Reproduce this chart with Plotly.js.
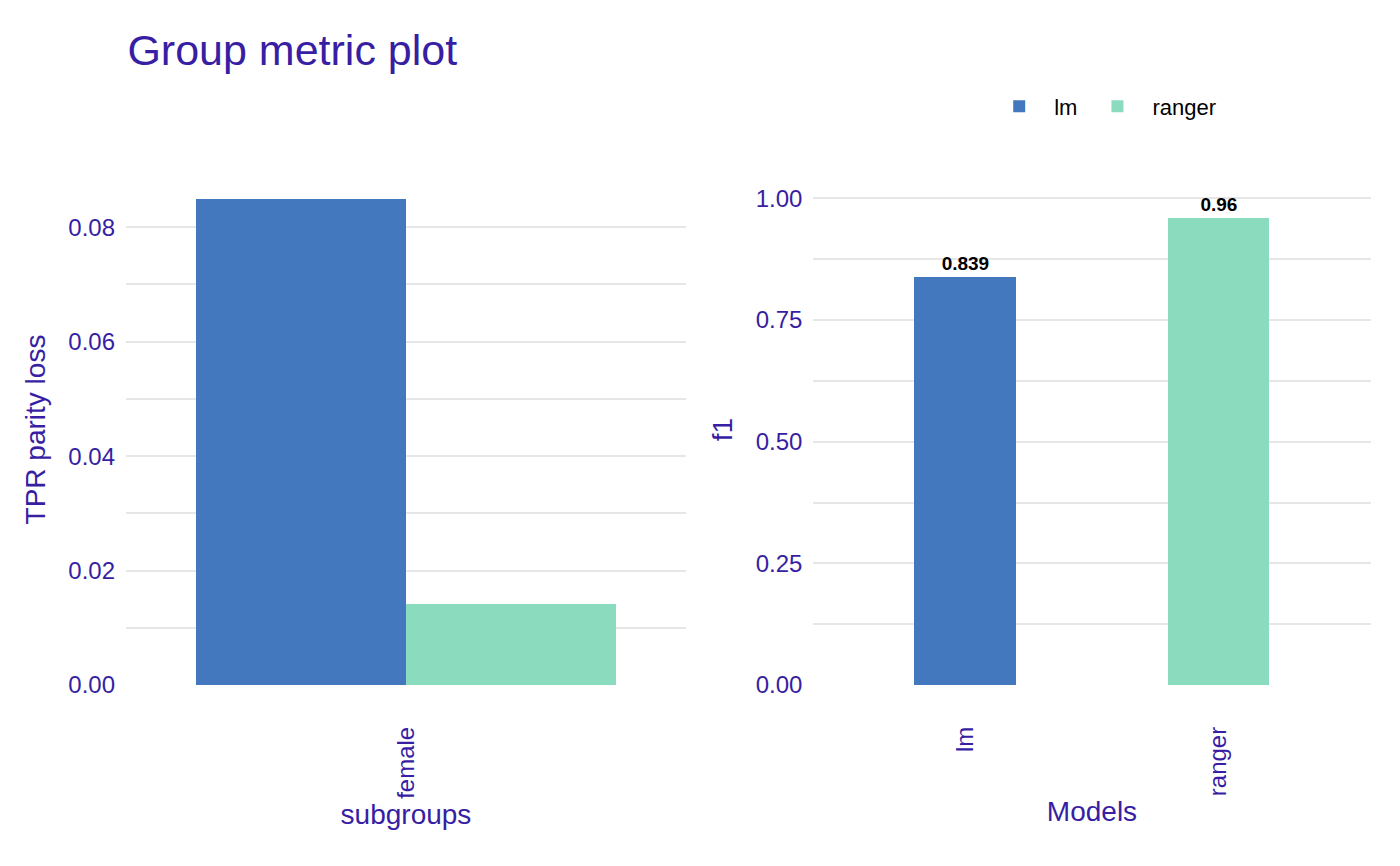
<!DOCTYPE html>
<html>
<head>
<meta charset="utf-8">
<script src="https://cdn.plot.ly/plotly-3.0.1.min.js"></script>
<style>body{margin:0;background:#fff}#plot{width:1400px;height:866px}</style>
</head>
<body>
<div id="plot"></div>
<script>
// left panel: parity loss per subgroup
const subgroups = ['female'];
const lossLm = [0.085];
const lossRanger = [0.0142];

// right panel: f1 per model
const models = ['lm', 'ranger'];
const f1Values = [0.839, 0.96];
const f1Labels = ['0.839', '0.96'];

const COLORS = { lm: '#4378bf', ranger: '#8bdcbe', text: '#371ea3', grid: '#e6e6e6' };
const FONT = 'Liberation Sans, Arial, sans-serif';

const labelFont = { family: FONT, size: 19, color: '#000', weight: 'bold' };

const traces = [
  { type: 'bar', x: subgroups, y: lossLm, xaxis: 'x', yaxis: 'y', width: 0.45, offset: -0.45,
    marker: { color: COLORS.lm }, name: 'lm', legendgroup: 'lm', showlegend: false, hoverinfo: 'y' },
  { type: 'bar', x: subgroups, y: lossRanger, xaxis: 'x', yaxis: 'y', width: 0.45, offset: 0,
    marker: { color: COLORS.ranger }, name: 'ranger', legendgroup: 'ranger', showlegend: false, hoverinfo: 'y' },
  { type: 'bar', x: [models[0]], y: [f1Values[0]], text: [f1Labels[0]], xaxis: 'x2', yaxis: 'y2',
    width: 0.4, offset: -0.2, textposition: 'outside', cliponaxis: false, textfont: labelFont,
    marker: { color: COLORS.lm }, name: 'lm', legendgroup: 'lm' },
  { type: 'bar', x: [models[1]], y: [f1Values[1]], text: [f1Labels[1]], xaxis: 'x2', yaxis: 'y2',
    width: 0.4, offset: -0.2, textposition: 'outside', cliponaxis: false, textfont: labelFont,
    marker: { color: COLORS.ranger }, name: 'ranger', legendgroup: 'ranger' }
];

const tickfont = { family: FONT, size: 24, color: COLORS.text };
const titlefont = { family: FONT, size: 28, color: COLORS.text };

const xBase = { type: 'category', tickangle: -90, tickfont, showgrid: false, zeroline: false,
  showline: false, ticks: '', ticklabelstandoff: 36, range: [-0.6, 0.6] };
const yBase = { tickfont, gridcolor: COLORS.grid, gridwidth: 2, zeroline: false, showline: false,
  ticks: '', tickformat: '.2f', ticklabelstandoff: 10 };

const layout = {
  width: 1400, height: 866,
  margin: { l: 0, r: 0, t: 0, b: 0 },
  paper_bgcolor: '#fff', plot_bgcolor: '#fff',
  font: { family: FONT, color: COLORS.text },
  title: { text: 'Group metric plot', x: 0.091, xanchor: 'left', y: 0.942, yanchor: 'middle',
    font: { family: FONT, size: 43, color: COLORS.text } },
  barmode: 'overlay',
  bargap: 0,
  showlegend: true,
  legend: { orientation: 'h', x: 0.703, xanchor: 'left', y: 0.877, yanchor: 'middle',
    font: { family: FONT, size: 22, color: '#000' }, itemwidth: 60 },
  xaxis: Object.assign({}, xBase, { domain: [0.09, 0.49], anchor: 'y',
    title: { text: 'subgroups', font: titlefont, standoff: 6 } }),
  yaxis: Object.assign({}, yBase, { domain: [0.209, 0.799], anchor: 'x', range: [0, 0.0893], dtick: 0.02,
    minor: { dtick: 0.01, showgrid: true, gridcolor: COLORS.grid, gridwidth: 2 },
    title: { text: 'TPR parity loss', font: titlefont, standoff: 14 } }),
  xaxis2: Object.assign({}, xBase, { domain: [0.581, 0.979], anchor: 'y2', range: [-0.6, 1.6],
    title: { text: 'Models', font: titlefont, standoff: 6 } }),
  yaxis2: Object.assign({}, yBase, { domain: [0.209, 0.799], anchor: 'x2', range: [0, 1.05], dtick: 0.25,
    minor: { dtick: 0.125, showgrid: true, gridcolor: COLORS.grid, gridwidth: 2 },
    title: { text: 'f1', font: titlefont, standoff: 14 } })
};

Plotly.newPlot('plot', traces, layout, { displayModeBar: false, responsive: false });
</script>
</body>
</html>
